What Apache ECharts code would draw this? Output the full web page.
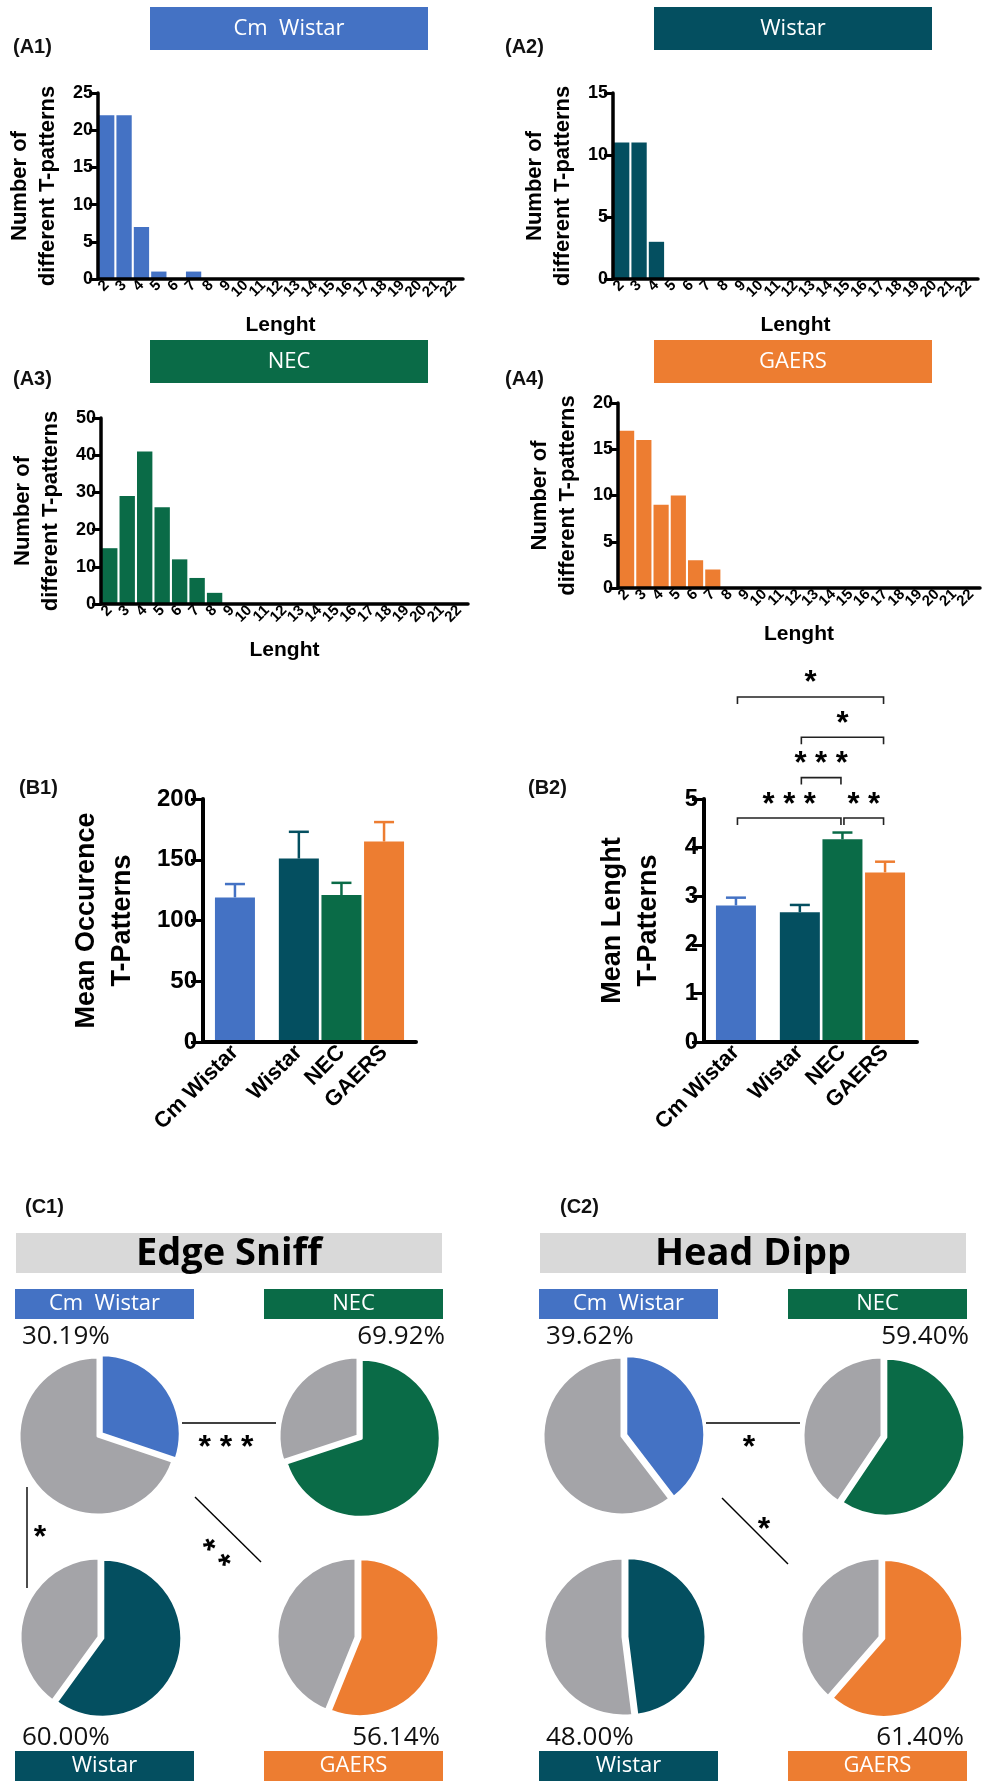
<!DOCTYPE html>
<html><head><meta charset="utf-8">
<script src="https://cdn.jsdelivr.net/npm/echarts@6/dist/echarts.min.js"></script>
<style>html,body{margin:0;padding:0;background:#fff}#c{width:983px;height:1781px}</style>
</head><body><div id="c"></div>
<script>
// ---------- DATA ----------
const lengthLabels = ['2','3','4','5','6','7','8','9','10','11','12','13','14','15','16','17','18','19','20','21','22'];
const countsCmWistar = [22,22,7,1,0,1,0,0,0,0,0,0,0,0,0,0,0,0,0,0,0];
const countsWistar   = [11,11,3,0,0,0,0,0,0,0,0,0,0,0,0,0,0,0,0,0,0];
const countsNEC      = [15,29,41,26,12,7,3,0,0,0,0,0,0,0,0,0,0,0,0,0,0];
const countsGAERS    = [17,16,9,10,3,2,0,0,0,0,0,0,0,0,0,0,0,0,0,0,0];

const groupLabels = ['Cm Wistar','Wistar','NEC','GAERS'];
const meanOccurrence = [119,151,121,165];
const semOccurrence  = [11,22,10,16];
const meanLength = [2.81,2.67,4.17,3.49];
const semLength  = [0.16,0.15,0.14,0.22];
const lengthComparisons = [
  {from:'Cm Wistar', to:'NEC',   stars:3, level:0},
  {from:'NEC',       to:'GAERS', stars:2, level:0},
  {from:'Wistar',    to:'NEC',   stars:3, level:1},
  {from:'Wistar',    to:'GAERS', stars:1, level:2},
  {from:'Cm Wistar', to:'GAERS', stars:1, level:3}
];

const pieGroups   = ['Cm Wistar','NEC','Wistar','GAERS'];
const edgeSniffPct = [30.19, 69.92, 60.00, 56.14];
const headDippPct  = [39.62, 59.40, 48.00, 61.40];

// ---------- STYLE / LAYOUT ----------
const COLORS = {'Cm Wistar':'#4472C4','Wistar':'#044F60','NEC':'#0A6B47','GAERS':'#ED7D31'};
const GREY = '#A4A4A8';
const FA = "'Liberation Sans', Arial, sans-serif";
const FO = "'Open Sans', 'Noto Sans', sans-serif";
const boxName = g => g === 'Cm Wistar' ? 'Cm  Wistar' : g;
// bar-group slots on the B category axis (gap after the first group, as in the figure)
const B_SLOT_COUNT = 10;
const B_SLOTS = [1, 4, 6, 8];

const grids = [], xAxes = [], yAxes = [], series = [], elements = [];

// ---------- A panels (histograms) ----------
const aPanels = [
  {label:'(A1)', lx:13,  ly:47,  grid:{left:98,  top:93,  width:365, height:186}, counts:countsCmWistar, group:'Cm Wistar', max:25, interval:5,  hdr:[150,7]},
  {label:'(A2)', lx:505, ly:47,  grid:{left:613, top:93,  width:365, height:186}, counts:countsWistar,   group:'Wistar',    max:15, interval:5,  hdr:[654,7]},
  {label:'(A3)', lx:13,  ly:379, grid:{left:101, top:418, width:367, height:186}, counts:countsNEC,      group:'NEC',       max:50, interval:10, hdr:[150,340]},
  {label:'(A4)', lx:505, ly:379, grid:{left:618, top:403, width:362, height:185}, counts:countsGAERS,    group:'GAERS',     max:20, interval:5,  hdr:[654,340]}
];
aPanels.forEach((p) => {
  const gi = grids.length;
  grids.push(p.grid);
  xAxes.push({
    gridIndex:gi, type:'category', data:lengthLabels, z:5,
    axisLine:{lineStyle:{color:'#000', width:3.5}}, axisTick:{show:false},
    axisLabel:{interval:0, rotate:45, margin:4, color:'#000', fontFamily:FA, fontWeight:'bold', fontSize:15},
    name:'Lenght', nameLocation:'middle', nameGap:36,
    nameTextStyle:{color:'#000', fontFamily:FA, fontWeight:'bold', fontSize:21}
  });
  yAxes.push({
    gridIndex:gi, type:'value', min:0, max:p.max, interval:p.interval, z:5,
    splitLine:{show:false},
    axisLine:{show:true, lineStyle:{color:'#000', width:3.5}},
    axisTick:{show:true, length:9, lineStyle:{color:'#000', width:3}},
    axisLabel:{margin:5, color:'#000', fontFamily:FA, fontWeight:'bold', fontSize:18},
    name:'Number of\ndifferent T-patterns', nameLocation:'middle', nameRotate:90, nameGap:36,
    nameTextStyle:{color:'#000', fontFamily:FA, fontWeight:'bold', fontSize:22, lineHeight:28}
  });
  series.push({type:'bar', xAxisIndex:gi, yAxisIndex:gi, data:p.counts, barCategoryGap:'12%',
    itemStyle:{color:COLORS[p.group]}, silent:true});
  elements.push({type:'text', x:p.lx, y:p.ly, style:{text:p.label, fill:'#111', fontFamily:FA, fontWeight:'bold', fontSize:20, align:'left', verticalAlign:'middle'}});
  elements.push({type:'rect', shape:{x:p.hdr[0], y:p.hdr[1], width:278, height:43}, style:{fill:COLORS[p.group]}});
  elements.push({type:'text', x:p.hdr[0]+139, y:p.hdr[1]+22, style:{text:boxName(p.group), fill:'#fff', fontFamily:FO, fontSize:22, align:'center', verticalAlign:'middle'}});
});

// ---------- B panels (mean bars) ----------
const bCats = Array.from({length:B_SLOT_COUNT}, () => '');
groupLabels.forEach((g, i) => { bCats[B_SLOTS[i]] = g; });
const catIdx = i => B_SLOTS[i];
const bPanels = [
  {label:'(B1)', lx:19,  ly:788, grid:{left:203, top:799, width:213, height:243}, mean:meanOccurrence, sem:semOccurrence, max:200, interval:50,
   name:'Mean Occurence\nT-Patterns', nameGap:62},
  {label:'(B2)', lx:528, ly:788, grid:{left:704, top:799, width:213, height:243}, mean:meanLength, sem:semLength, max:5, interval:1,
   name:'Mean Lenght\nT-Patterns', nameGap:37}
];
bPanels.forEach((p, k) => {
  const gi = grids.length;
  grids.push(p.grid);
  xAxes.push({
    gridIndex:gi, type:'category', data:bCats, z:5,
    axisLine:{lineStyle:{color:'#000', width:4}}, axisTick:{show:false},
    axisLabel:{interval:0, rotate:45, margin:7, color:'#000', fontFamily:FA, fontWeight:'bold', fontSize:22}
  });
  yAxes.push({
    gridIndex:gi, type:'value', min:0, max:p.max, interval:p.interval, z:5,
    splitLine:{show:false},
    axisLine:{show:true, lineStyle:{color:'#000', width:4}},
    axisTick:{show:true, length:12, lineStyle:{color:'#000', width:3}},
    axisLabel:{margin:6, color:'#000', fontFamily:FA, fontWeight:'bold', fontSize:24},
    name:p.name, nameLocation:'middle', nameRotate:90, nameGap:p.nameGap,
    nameTextStyle:{color:'#000', fontFamily:FA, fontWeight:'bold', fontSize:27, lineHeight:36}
  });
  const barData = bCats.map(() => '-');
  groupLabels.forEach((g, i) => { barData[catIdx(i)] = {value:p.mean[i], itemStyle:{color:COLORS[g]}}; });
  series.push({type:'bar', xAxisIndex:gi, yAxisIndex:gi, data:barData, barWidth:40, silent:true});
  series.push({
    type:'custom', xAxisIndex:gi, yAxisIndex:gi, silent:true,
    encode:{x:0, y:1},
    data: groupLabels.map((g, i) => [catIdx(i), p.mean[i] + p.sem[i], p.mean[i], i]),
    renderItem: (params, api) => {
      const x = api.value(0), top = api.value(1), m = api.value(2);
      const color = COLORS[groupLabels[api.value(3)]];
      const a = api.coord([x, m]), b = api.coord([x, top]);
      return {type:'group', children:[
        {type:'line', shape:{x1:a[0], y1:a[1], x2:b[0], y2:b[1]}, style:{stroke:color, lineWidth:2.5}},
        {type:'line', shape:{x1:b[0]-10, y1:b[1], x2:b[0]+10, y2:b[1]}, style:{stroke:color, lineWidth:2.5}}
      ]};
    }
  });
  elements.push({type:'text', x:p.lx, y:p.ly, style:{text:p.label, fill:'#111', fontFamily:FA, fontWeight:'bold', fontSize:20, align:'left', verticalAlign:'middle'}});
});

// significance brackets on B2
(function(){
  const gi = 5;
  const tops = meanLength.map((m, i) => m + semLength[i]);
  const base = Math.max(...tops) + 0.3, step = 0.83;
  series.push({
    type:'custom', xAxisIndex:gi, yAxisIndex:gi, silent:true, clip:false,
    encode:{x:[0,1], y:2},
    data: lengthComparisons.map((c, j) => [catIdx(groupLabels.indexOf(c.from)), catIdx(groupLabels.indexOf(c.to)), base + c.level*step, j]),
    renderItem: (params, api) => {
      const y = api.value(2);
      const a = api.coord([api.value(0), y]), b = api.coord([api.value(1), y]);
      const c = lengthComparisons[api.value(3)];
      const x1 = a[0] + 1.5, x2 = b[0] - 1.5;
      const txt = Array(c.stars).fill('*').join(' ');
      return {type:'group', children:[
        {type:'polyline', shape:{points:[[x1, a[1]+7],[x1, a[1]],[x2, b[1]],[x2, b[1]+7]]}, style:{stroke:'#222', lineWidth:1.6, fill:null}},
        {type:'text', x:(x1+x2)/2, y:a[1]-13, style:{text:txt, fill:'#000', fontFamily:FA, fontWeight:'bold', fontSize:31, align:'center', verticalAlign:'middle'}}
      ]};
    }
  });
})();

// ---------- C panels (pies) ----------
const cPanels = [
  {label:'(C1)', lx:25, title:'Edge Sniff', pct:edgeSniffPct, dx:0},
  {label:'(C2)', lx:560, title:'Head Dipp', pct:headDippPct, dx:524}
];
const pieLayout = [
  {c:[98,1436],  box:[15,1289],  tx:22,  ty:1337, align:'left'},
  {c:[358,1436], box:[264,1289], tx:445, ty:1337, align:'right'},
  {c:[99,1637],  box:[15,1751],  tx:22,  ty:1738, align:'left'},
  {c:[356,1637], box:[264,1751], tx:440, ty:1738, align:'right'}
];
cPanels.forEach(p => {
  elements.push({type:'text', x:p.lx, y:1207, style:{text:p.label, fill:'#111', fontFamily:FA, fontWeight:'bold', fontSize:20, align:'left', verticalAlign:'middle'}});
  elements.push({type:'rect', shape:{x:16+p.dx, y:1233, width:426, height:40}, style:{fill:'#D9D9D9'}});
  elements.push({type:'text', x:229+p.dx, y:1254, style:{text:p.title, fill:'#000', fontFamily:FO, fontWeight:'bold', fontSize:38, align:'center', verticalAlign:'middle'}});
  pieGroups.forEach((g, i) => {
    const L = pieLayout[i], v = p.pct[i];
    series.push({
      type:'pie', center:[L.c[0]+p.dx, L.c[1]], radius:79, startAngle:90, clockwise:true,
      silent:true, selectedMode:'single', selectedOffset:4, label:{show:false}, labelLine:{show:false},
      itemStyle:{borderColor:'#fff', borderWidth:3},
      data:[
        {value:v, name:g, selected:true, itemStyle:{color:COLORS[g]}, select:{itemStyle:{color:COLORS[g], borderColor:'#fff', borderWidth:3}}},
        {value:+(100 - v).toFixed(2), name:'other', itemStyle:{color:GREY}}
      ]
    });
    elements.push({type:'rect', shape:{x:L.box[0]+p.dx, y:L.box[1], width:179, height:30}, style:{fill:COLORS[g]}});
    elements.push({type:'text', x:L.box[0]+p.dx+89.5, y:L.box[1]+15, style:{text:boxName(g), fill:'#fff', fontFamily:FO, fontSize:22, align:'center', verticalAlign:'middle'}});
    elements.push({type:'text', x:L.tx+p.dx, y:L.ty, style:{text:v.toFixed(2)+'%', fill:'#111', fontFamily:FO, fontSize:26, align:L.align, verticalAlign:'middle'}});
  });
});
const ln = (x1,y1,x2,y2) => ({type:'line', shape:{x1,y1,x2,y2}, style:{stroke:'#000', lineWidth:1.4}});
const star = (x,y,t,rot) => ({type:'text', x, y, rotation:rot||0, style:{text:t, fill:'#000', fontFamily:FA, fontWeight:'bold', fontSize:32, align:'center', verticalAlign:'middle'}});
elements.push(ln(182,1423,276,1423), star(226,1448,'* * *'));
elements.push(ln(27,1487,27,1588), star(40,1538,'*'));
elements.push(ln(195,1497,261,1562), star(212,1557,'* *', -Math.PI/4));
elements.push(ln(706,1423,800,1423), star(749,1448,'*'));
elements.push(ln(722,1498,788,1564), star(764,1530,'*'));

const chart = echarts.init(document.getElementById('c'), null, {renderer:'canvas'});
chart.setOption({
  animation:false,
  backgroundColor:'#fff',
  grid:grids, xAxis:xAxes, yAxis:yAxes, series:series,
  graphic:{elements:elements}
});
</script></body></html>
